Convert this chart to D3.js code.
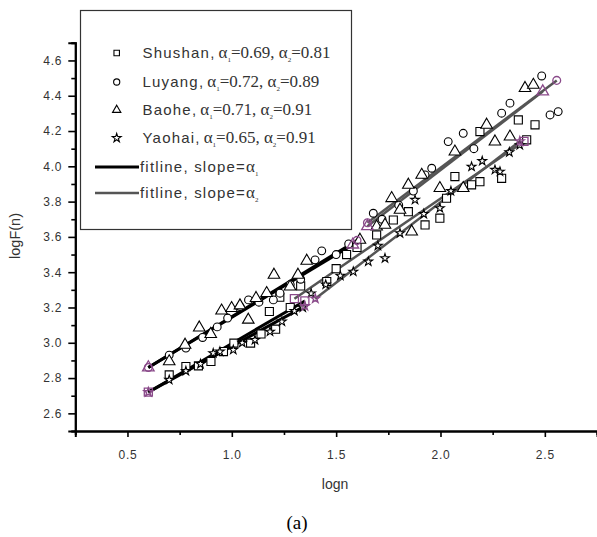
<!DOCTYPE html>
<html><head><meta charset="utf-8">
<script src="https://cdn.jsdelivr.net/npm/d3@7"></script>
<style>body{margin:0;background:#fff}svg{display:block}</style>
</head><body>
<script>
// ---- data ----
const seriesNames = ["Shushan","Luyang","Baohe","Yaohai"];
const alpha1 = ["0.69","0.72","0.71","0.65"];
const alpha2 = ["0.81","0.89","0.91","0.91"];
const shushanX = [0.70,0.78,0.84,0.90,0.96,1.01,1.09,1.14,1.18,1.21,1.23,1.28,1.33,1.455,1.50,1.55,1.60,1.694,1.774,1.846,1.926,1.997,2.029,2.069,2.149,2.189,2.189,2.293,2.373,2.413,2.453];
const shushanY = [2.818,2.865,2.869,2.894,2.95,2.998,2.998,3.05,3.177,3.077,3.258,3.20,3.322,3.347,3.42,3.50,3.54,3.611,3.696,3.743,3.668,3.706,3.819,3.942,3.895,3.913,4.197,3.932,4.263,4.150,4.235];
const luyangX = [0.70,0.78,0.86,0.93,0.98,1.04,1.08,1.13,1.199,1.231,1.28,1.33,1.399,1.431,1.50,1.56,1.678,1.72,1.80,1.87,1.926,1.958,2.037,2.109,2.16,2.293,2.333,2.485,2.525,2.564];
const luyangY = [2.93,2.97,3.03,3.09,3.14,3.205,3.243,3.23,3.243,3.281,3.33,3.36,3.47,3.521,3.50,3.56,3.734,3.70,3.78,3.86,3.951,3.989,4.140,4.187,4.10,4.301,4.358,4.512,4.291,4.310];
const baoheX = [0.700,0.776,0.844,0.899,0.951,0.999,1.039,1.079,1.116,1.167,1.202,1.279,1.317,1.359,1.614,1.694,1.734,1.766,1.806,1.846,1.862,1.910,1.997,2.069,2.109,2.221,2.261,2.333,2.405,2.445];
const baoheY = [2.894,2.988,3.086,3.049,3.182,3.196,3.211,3.130,3.253,3.281,3.385,3.318,3.385,3.464,3.583,3.658,3.668,3.819,3.753,3.895,3.630,3.951,3.876,4.083,3.876,4.235,4.140,4.168,4.443,4.461];
const yaohaiX = [0.70,0.78,0.85,0.911,0.943,1.007,1.05,1.111,1.183,1.24,1.30,1.34,1.38,1.45,1.52,1.582,1.654,1.70,1.734,1.806,1.878,1.92,1.997,2.05,2.149,2.20,2.261,2.285,2.33,2.38];
const yaohaiY = [2.79,2.84,2.88,2.941,2.950,2.960,3.00,3.016,3.063,3.12,3.18,3.20,3.28,3.33,3.38,3.403,3.46,3.55,3.479,3.621,3.81,3.73,3.763,3.86,3.998,4.03,3.980,3.970,4.08,4.12];
// fit segments: [x0, y0, x1, y1]
const fit1 = [[0.6,2.72,1.35,3.237],[0.6,2.86,1.60,3.58],[0.6,2.86,1.58,3.556],[0.6,2.72,1.35,3.208]];
const fit2 = [[1.30,3.25,2.40,4.141],[1.65,3.68,2.557,4.487],[1.65,3.66,2.49,4.424],[1.40,3.25,2.38,4.142]];
const xTicks = [0.5,1.0,1.5,2.0,2.5];
const xMinor = [0.25,0.75,1.25,1.75,2.25,2.75];
const yTicks = [2.6,2.8,3.0,3.2,3.4,3.6,3.8,4.0,4.2,4.4,4.6];
const yMinor = [2.5,2.7,2.9,3.1,3.3,3.5,3.7,3.9,4.1,4.3,4.5,4.7];

const allX = [shushanX,luyangX,baoheX,yaohaiX];
const allY = [shushanY,luyangY,baoheY,yaohaiY];
const symTypes = [d3.symbolSquare,d3.symbolCircle,d3.symbolTriangle,d3.symbolStar];
const symSizes = [65,48,58,24];

const W=597,H=537;
const svg=d3.select("body").append("svg").attr("width",W).attr("height",H);
const x=d3.scaleLinear().domain([0.25,2.75]).range([75.3,597]);
const y=d3.scaleLinear().domain([2.5,4.7]).range([431,42.8]);

// axes
svg.append("g").attr("transform","translate(0,431)")
  .call(d3.axisBottom(x).tickValues(xMinor).tickSize(4).tickFormat(""));
svg.append("g").attr("transform","translate(0,431)")
  .call(d3.axisBottom(x).tickValues(xTicks).tickSize(6).tickPadding(13).tickFormat(d3.format(".1f")));
svg.append("g").attr("transform","translate(75.3,0)")
  .call(d3.axisLeft(y).tickValues(yMinor).tickSize(4).tickFormat(""));
svg.append("g").attr("transform","translate(75.3,0)")
  .call(d3.axisLeft(y).tickValues(yTicks).tickSize(7).tickPadding(6).tickFormat(d3.format(".1f")));
svg.selectAll(".domain").attr("stroke","#000").attr("stroke-width",2);
svg.selectAll(".tick line").attr("stroke","#000").attr("stroke-width",1.6);
svg.selectAll(".tick text").attr("font-family","Arial, 'Liberation Sans', sans-serif").attr("font-size",12).attr("fill","#333").attr("letter-spacing","0.8px");

// fit lines
const plot=svg.append("g");
fit1.forEach(s=>plot.append("line").attr("x1",x(s[0])).attr("y1",y(s[1])).attr("x2",x(s[2])).attr("y2",y(s[3])).attr("stroke","#000").attr("stroke-width",3));
fit2.forEach(s=>plot.append("line").attr("x1",x(s[0])).attr("y1",y(s[1])).attr("x2",x(s[2])).attr("y2",y(s[3])).attr("stroke","#555").attr("stroke-width",2.5));

// points
allX.forEach((xs,i)=>{
  plot.selectAll(null).data(xs.map((v,j)=>[v,allY[i][j]])).enter().append("path")
    .attr("d",d3.symbol().type(symTypes[i]).size(symSizes[i]))
    .attr("transform",d=>`translate(${x(d[0])},${y(d[1])})`)
    .attr("fill","#fff").attr("stroke","#000").attr("stroke-width",1.1);
});
// purple endpoint markers
[fit1,fit2].forEach(f=>f.forEach((s,i)=>{
  [[s[0],s[1]],[s[2],s[3]]].forEach(p=>{
    plot.append("path").attr("d",d3.symbol().type(symTypes[i]).size(symSizes[i]))
      .attr("transform",`translate(${x(p[0])},${y(p[1])})`)
      .attr("fill","none").attr("stroke","#8a4a8a").attr("stroke-width",1.3);
  });
}));

// labels
svg.append("text").attr("x",335).attr("y",489).attr("text-anchor","middle")
  .attr("font-family","Arial, 'Liberation Sans', sans-serif").attr("font-size",14).attr("fill","#333").text("logn");
svg.append("text").attr("transform","translate(20,236) rotate(-90)").attr("text-anchor","middle")
  .attr("font-family","Arial, 'Liberation Sans', sans-serif").attr("font-size",14.5).attr("fill","#333").text("logF(n)");
svg.append("text").attr("x",297).attr("y",529).attr("text-anchor","middle")
  .attr("font-family","'Liberation Serif','Times New Roman',serif").attr("font-size",19).attr("fill","#000").text("(a)");

// legend
const lg=svg.append("g");
lg.append("rect").attr("x",80.5).attr("y",10.5).attr("width",271).attr("height",219)
  .attr("fill","#fff").attr("stroke","#333").attr("stroke-width",1.2);
const rowY=[53,82,110,138,167,193];
seriesNames.forEach((n,i)=>{
  lg.append("path").attr("d",d3.symbol().type(symTypes[i]).size(i===3?24:30))
    .attr("transform",`translate(116.7,${rowY[i]})`).attr("fill","#fff").attr("stroke","#000").attr("stroke-width",1.1);
  const t=lg.append("text").attr("x",142.5).attr("y",rowY[i]+5).attr("fill","#333").attr("font-size",15);
  t.append("tspan").attr("font-family","Arial, 'Liberation Sans', sans-serif").attr("letter-spacing","1.2px").text(n);
  t.append("tspan").attr("font-family","Arial, 'Liberation Sans', sans-serif").text(", ");
  const sf="'Liberation Serif',serif";
  t.append("tspan").attr("font-family",sf).attr("font-size",17).text("α");
  t.append("tspan").attr("font-family",sf).attr("font-size",7).attr("dy",4).text("1");
  t.append("tspan").attr("font-family",sf).attr("font-size",17).attr("dy",-4).text("="+alpha1[i]+", ");
  t.append("tspan").attr("font-family",sf).attr("font-size",17).text("α");
  t.append("tspan").attr("font-family",sf).attr("font-size",7).attr("dy",4).text("2");
  t.append("tspan").attr("font-family",sf).attr("font-size",17).attr("dy",-4).text("="+alpha2[i]);
});
[["1","#000",3],["2","#555",2.5]].forEach((d,k)=>{
  const yy=rowY[4+k];
  lg.append("line").attr("x1",95).attr("x2",139).attr("y1",yy).attr("y2",yy).attr("stroke",d[1]).attr("stroke-width",d[2]);
  const t=lg.append("text").attr("x",140).attr("y",yy+5).attr("fill","#333").attr("font-size",15);
  t.append("tspan").attr("font-family","Arial, 'Liberation Sans', sans-serif").attr("letter-spacing","1.2px").text("fitline, slope=");
  t.append("tspan").attr("font-family","'Liberation Serif',serif").attr("font-size",17).text("α");
  t.append("tspan").attr("font-family","'Liberation Serif',serif").attr("font-size",7).attr("dy",4).text(d[0]);
});
</script>
</body></html>
